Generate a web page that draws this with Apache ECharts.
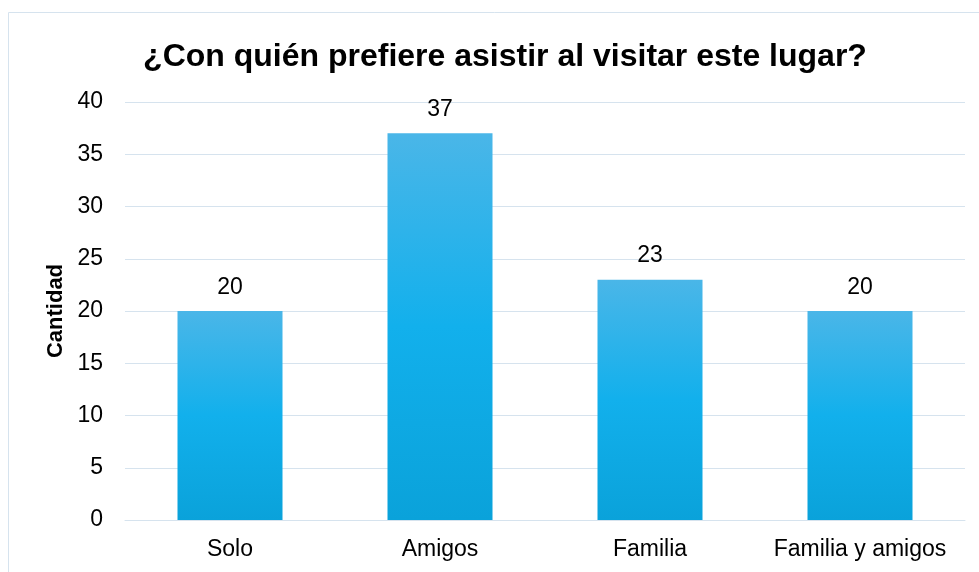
<!DOCTYPE html>
<html>
<head>
<meta charset="utf-8">
<script src="https://cdn.jsdelivr.net/npm/echarts@6/dist/echarts.min.js"></script>
<style>
  html, body { margin: 0; padding: 0; background: #fff; }
  #chart { width: 979px; height: 572px; }
</style>
</head>
<body>
<div id="chart"></div>
<script>
const categories = ['Solo', 'Amigos', 'Familia', 'Familia y amigos'];
const values = [20, 37, 23, 20];

const chart = echarts.init(document.getElementById('chart'));

// degradado de las barras
const barColor = new echarts.graphic.LinearGradient(0, 0, 0, 1, [
  { offset: 0, color: '#4ab6e8' },
  { offset: 0.5, color: '#12b0ec' },
  { offset: 1, color: '#0aa2da' }
]);

chart.setOption({
  animation: false,
  textStyle: { fontFamily: 'Liberation Sans, Arial, sans-serif' },
  graphic: [
    {
      type: 'rect',
      shape: { x: 8.5, y: 12.5, width: 1000, height: 600 },
      style: { fill: 'none', stroke: '#d6e3ee', lineWidth: 1 },
      silent: true
    }
  ],
  title: {
    text: '¿Con quién prefiere asistir al visitar este lugar?',
    left: 500,
    top: 36,
    textAlign: 'center',
    textStyle: { fontSize: 32, fontWeight: 'bold', color: '#000' }
  },
  grid: { left: 125, right: 14, top: 102, bottom: 52 },
  xAxis: {
    type: 'category',
    data: categories,
    axisLine: { lineStyle: { color: '#d6e3ee', width: 1 } },
    axisTick: { show: false },
    axisLabel: { color: '#000', fontSize: 23, margin: 18, interval: 0, hideOverlap: false }
  },
  yAxis: {
    type: 'value',
    min: 0,
    max: 40,
    interval: 5,
    name: 'Cantidad',
    nameLocation: 'middle',
    nameGap: 56,
    nameTextStyle: { fontSize: 22, fontWeight: 'bold', color: '#000' },
    axisLine: { show: false },
    axisTick: { show: false },
    axisLabel: { color: '#000', fontSize: 23, margin: 22 },
    splitLine: { lineStyle: { color: '#d6e3ee', width: 1 } }
  },
  series: [
    {
      type: 'bar',
      data: values,
      barWidth: '50%',
      itemStyle: { color: barColor },
      label: {
        show: true,
        position: 'top',
        distance: 12,
        color: '#000',
        fontSize: 23
      }
    }
  ]
});
</script>
</body>
</html>
